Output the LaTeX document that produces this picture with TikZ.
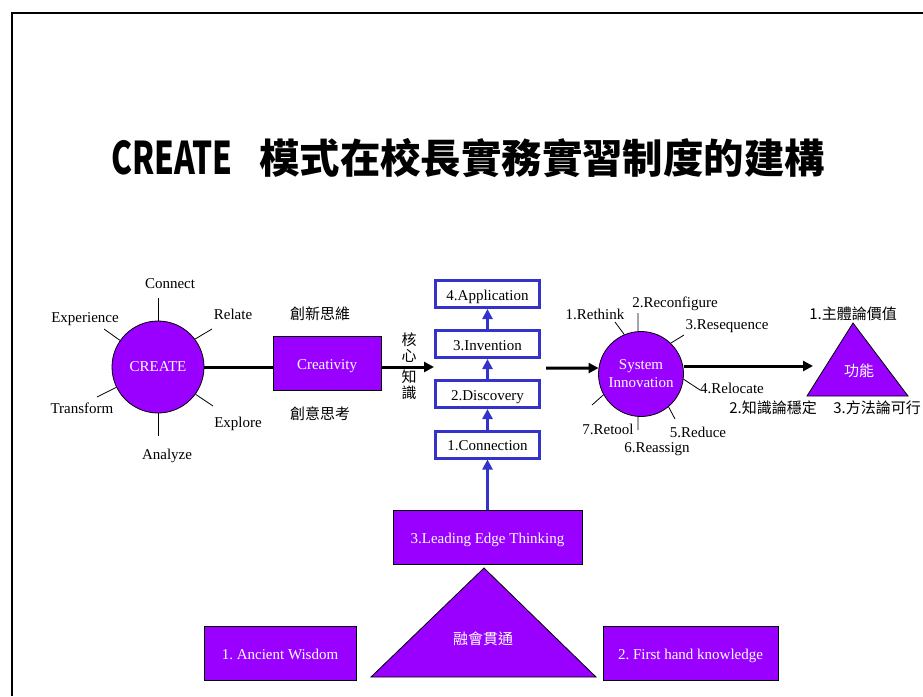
\documentclass[tikz,border=0pt]{standalone}
\usepackage{fontspec}
\setmainfont{Liberation Serif}
\newfontfamily\cjk{Noto Sans CJK TC}
\usetikzlibrary{arrows.meta}
\definecolor{vio}{RGB}{153,0,255}
\definecolor{blu}{RGB}{51,51,204}
\frenchspacing
\begin{document}
\frenchspacing
\begin{tikzpicture}[x=1pt,y=-1pt,
  lbl/.style={inner sep=0pt,text height=14pt,text depth=2pt,font=\fontsize{15}{18}\selectfont},
  cjklbl/.style={inner sep=0pt,font=\cjk\fontsize{15}{16}\selectfont,align=center},
  vbox/.style={draw=black,line width=0.8pt,fill=vio,text=white,inner sep=0pt,text height=14pt,text depth=2pt,font=\fontsize{15}{18}\selectfont},
  vcircle/.style={circle,draw=black,line width=0.8pt,fill=vio,text=white,inner sep=0pt,align=center,font=\fontsize{15}{18}\selectfont},
  bbox/.style={draw=blu,line width=3pt,fill=white,inner sep=0pt,minimum width=104,minimum height=27,text height=14pt,text depth=2pt,font=\fontsize{15}{18}\selectfont},
  spoke/.style={line width=0.8pt},
  heavy/.style={line width=3pt,-{Triangle[length=10pt,width=10pt]}},
  heavyline/.style={line width=3pt},
  barrow/.style={draw=blu,line width=3.5pt,-{Triangle[length=10pt,width=10pt]}}
]
\useasboundingbox (0,0) rectangle (923,696);
\draw[line width=2pt] (12,696) -- (12,13) -- (923,13);

% title
\node[anchor=west,inner sep=0pt,font=\cjk\bfseries\fontsize{45}{50}\selectfont] (t1) at (111,158) {\scalebox{0.7}[1]{CREATE}};
\node[anchor=west,inner sep=0pt,font=\cjk\bfseries\fontsize{40.4}{44}\selectfont] (t2) at (259,158) {模式在校長實務實習制度的建構};

% CREATE circle
\node[vcircle,minimum size=92] (create) at (158,367) {CREATE};
\draw[spoke] (create.north) -- (158,298);
\draw[spoke] (create.37) -- (212,329);
\draw[spoke] (create.145) -- (104,329);
\draw[spoke] (create.206) -- (97,397);
\draw[spoke] (create.-36) -- (213,406);
\draw[spoke] (create.south) -- (158,436);
\node[lbl] (lc) at (170,282) {Connect};
\node[lbl] (lr) at (233,313) {Relate};
\node[lbl] (le) at (85,316) {Experience};
\node[lbl] (lt) at (82,407) {Transform};
\node[lbl] (lx) at (238,421) {Explore};
\node[lbl] (la) at (167,453) {Analyze};

% Creativity
\node[vbox,minimum width=108,minimum height=54] (creat) at (327,363) {Creativity};
\node[cjklbl] (cx1) at (320,314) {創新思維};
\node[cjklbl] (cx2) at (320,414) {創意思考};
\draw[heavyline] (create.east) -- (creat.west |- create.east);
\coordinate (kin) at (434,367);
\draw[heavy] (creat.east |- kin) -- (kin);
\node[cjklbl] (k1) at (409,348) {核\\心};
\node[cjklbl] (k2) at (409,385) {知\\識};

% blue stack
\node[bbox] (b4) at (487.5,294) {4.Application};
\node[bbox] (b3) at (487.5,344) {3.Invention};
\node[bbox] (b2) at (487.5,394) {2.Discovery};
\node[bbox] (b1) at (487.5,444.5) {1.Connection};
\draw[barrow] (b1.north) -- (b2.south);
\draw[barrow] (b2.north) -- (b3.south);
\draw[barrow] (b3.north) -- (b4.south);

% bottom
\node[vbox,minimum width=189,minimum height=54] (lead) at (487.5,537) {3.Leading Edge Thinking};
\draw[barrow] (lead.north) -- (b1.south);
\draw[fill=vio,line width=0.8pt] (484,568) -- (371,677) -- (596,677) -- cycle;
\node[cjklbl,text=white] (rh) at (483,639) {融會貫通};
\node[vbox,minimum width=152,minimum height=54] (anc) at (280,653) {1. Ancient Wisdom};
\node[vbox,minimum width=175,minimum height=54] (fh) at (690.5,653) {2. First hand knowledge};

% System Innovation
\node[vcircle,minimum size=85] (sys) at (641,374) {System\\Innovation};
\coordinate (kout) at (546,368);
\draw[heavy] (kout) -- (sys.172);
\coordinate (fin) at (813,366);
\draw[heavy] (sys.east |- fin) -- (fin);
\draw[spoke] (sys.113) -- (615,322);
\draw[spoke] (sys.94) -- (638,313);
\draw[spoke] (sys.46) -- (684,335);
\draw[spoke] (sys.-7) -- (700,390);
\draw[spoke] (sys.-50) -- (675,419);
\draw[spoke] (sys.266) -- (638,430);
\draw[spoke] (sys.209) -- (592,405);
\node[lbl] (s1) at (595,313) {1.Rethink};
\node[lbl] (s2) at (675,301) {2.Reconfigure};
\node[lbl] (s3) at (727,323) {3.Resequence};
\node[lbl] (s4) at (732,387) {4.Relocate};
\node[lbl] (s5) at (698,431) {5.Reduce};
\node[lbl] (s6) at (657,446) {6.Reassign};
\node[lbl] (s7) at (608,428) {7.Retool};

% function triangle
\draw[fill=vio,line width=0.8pt] (853,323) -- (807,396) -- (908,396) -- cycle;
\node[cjklbl,text=white] (fn) at (859,371) {功能};
\node[cjklbl] (f1) at (853,314) {1.主體論價值};
\node[cjklbl] (f2) at (773,408) {2.知識論穩定};
\node[cjklbl] (f3) at (877,408) {3.方法論可行};
\end{tikzpicture}
\end{document}
